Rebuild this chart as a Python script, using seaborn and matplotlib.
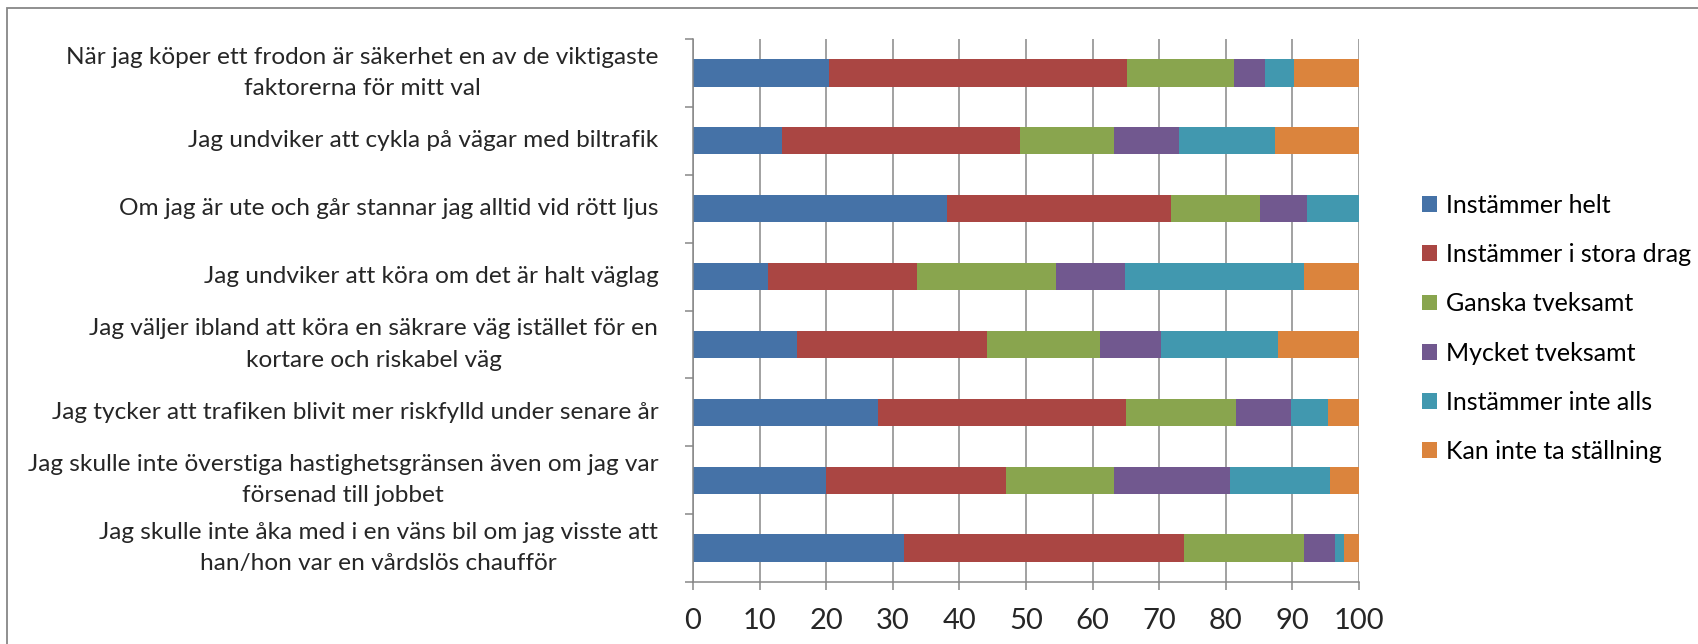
import numpy as np
import pandas as pd
import seaborn as sns
import matplotlib
matplotlib.use('Agg')
import matplotlib.pyplot as plt
from matplotlib.patches import Patch, Rectangle
from matplotlib.ticker import FixedLocator

statements = [
    "När jag köper ett frodon är säkerhet en av de viktigaste\nfaktorerna för mitt val",
    "Jag undviker att cykla på vägar med biltrafik",
    "Om jag är ute och går stannar jag alltid vid rött ljus",
    "Jag undviker att köra om det är halt väglag",
    "Jag väljer ibland att köra en säkrare väg istället för en\nkortare och riskabel väg",
    "Jag tycker att trafiken blivit mer riskfylld under senare år",
    "Jag skulle inte överstiga hastighetsgränsen även om jag var\nförsenad till jobbet",
    "Jag skulle inte åka med i en väns bil om jag visste att\nhan/hon var en vårdslös chaufför",
]

answers = ["Instämmer helt", "Instämmer i stora drag", "Ganska tveksamt",
           "Mycket tveksamt", "Instämmer inte alls", "Kan inte ta ställning"]

# percent per statement
instammer_helt = [20.4, 13.3, 38.1, 11.3, 15.6, 27.8, 19.9, 31.7]
instammer_stora = [44.7, 35.8, 33.6, 22.4, 28.6, 37.2, 27.1, 42.0]
ganska_tveksamt = [16.2, 14.1, 13.5, 20.8, 16.9, 16.6, 16.2, 18.0]
mycket_tveksamt = [4.6, 9.8, 7.0, 10.3, 9.2, 8.2, 17.5, 4.7]
instammer_inte = [4.4, 14.4, 7.8, 26.9, 17.6, 5.6, 14.9, 1.3]
kan_inte = [9.7, 12.6, 0.0, 8.3, 12.1, 4.6, 4.4, 2.3]

colors = ["#4572A7", "#AA4643", "#89A54E", "#71588F", "#4198AF", "#DB843D"]

df = pd.DataFrame({
    answers[0]: instammer_helt,
    answers[1]: instammer_stora,
    answers[2]: ganska_tveksamt,
    answers[3]: mycket_tveksamt,
    answers[4]: instammer_inte,
    answers[5]: kan_inte,
}, index=statements)
cum = df.cumsum(axis=1)

sns.set_style("white")
plt.rcParams['font.family'] = ['Lato', 'DejaVu Sans']
plt.rcParams['text.color'] = 'black'

fig = plt.figure(figsize=(16.98, 6.44), dpi=100)
ax = fig.add_axes([693 / 1698, 1 - 582 / 644, 666 / 1698, 543 / 644])

# stacked bars: draw cumulative totals from the last answer to the first
for col, c in reversed(list(zip(answers, colors))):
    sns.barplot(x=cum[col].values, y=statements, order=statements, color=c,
                orient='h', width=0.4, linewidth=0, saturation=1, ax=ax)

grey = '#878787'
ax.set_xlim(0, 100)
ax.set_ylim(len(statements) - 0.5, -0.5)
ax.set_xticks(range(0, 101, 10))
ax.xaxis.grid(True, color=grey, linewidth=1.1)
ax.yaxis.grid(False)
ax.set_axisbelow(True)
ax.set_xlabel('')
ax.set_ylabel('')

for side in ['top', 'right']:
    ax.spines[side].set_visible(False)
for side in ['left', 'bottom']:
    ax.spines[side].set_color(grey)
    ax.spines[side].set_linewidth(1.1)

ax.tick_params(axis='x', length=6, width=1.1, color=grey, labelsize=21, pad=13, bottom=True)
ax.tick_params(axis='y', which='major', length=0, labelsize=17.6, pad=25)
ax.yaxis.set_minor_locator(FixedLocator(np.arange(-0.5, len(statements), 1.0)))
ax.tick_params(axis='y', which='minor', length=6, width=1.1, color=grey, left=True)
for t in ax.get_yticklabels():
    t.set_multialignment('center')
    t.set_linespacing(1.6)
    t.set_verticalalignment('center')

handles = [Patch(facecolor=c, edgecolor='none') for c in colors]
fig.legend(handles, answers, loc='center left', bbox_to_anchor=(1422 / 1698, 1 - 328.5 / 644),
           frameon=False, fontsize=18, handlelength=0.6, handleheight=0.6,
           handletextpad=0.35, labelspacing=1.05, borderpad=0, borderaxespad=0)

# chart frame (only top and left edges fall inside the picture)
fig.patches.append(Rectangle((7 / 1698, -0.2), 1.2, 1.2 - 8 / 644, transform=fig.transFigure,
                             fill=False, edgecolor=grey, linewidth=1.3))

fig.savefig('out.png', dpi=100)
